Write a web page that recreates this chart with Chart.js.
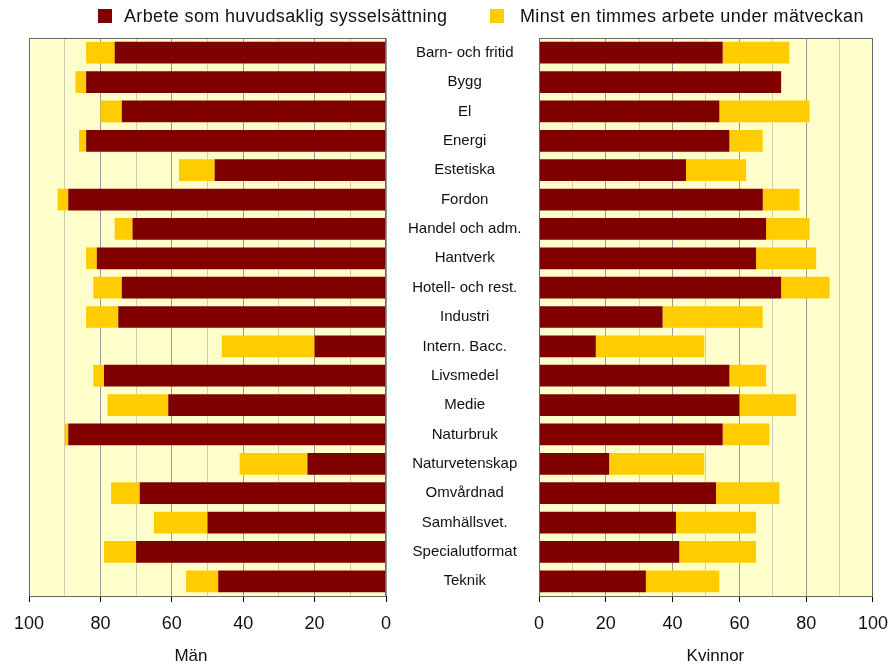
<!DOCTYPE html>
<html>
<head>
<meta charset="utf-8">
<script src="https://cdn.jsdelivr.net/npm/chart.js@4"></script>
<style>
  body { margin: 0; background: #fff; font-family: "Liberation Sans", Arial, sans-serif; overflow: hidden; }
  #wrap { position: relative; width: 896px; height: 668px; overflow: hidden; }
  #left { position: absolute; left: 0; top: 0; }
  #right { position: absolute; left: 523px; top: 0; }
  .legend { position: absolute; top: 6px; font-size: 18px; letter-spacing: 0.36px; color: #111; white-space: nowrap; }
  .legend span { display: inline-block; width: 14px; height: 14px; vertical-align: -1px; }
</style>
</head>
<body>
<div id="wrap">
  <canvas id="left" width="540" height="668"></canvas>
  <canvas id="right" width="376" height="668"></canvas>
  <div class="legend" style="left:98px"><span style="background:#800000;margin-right:12px"></span>Arbete som huvudsaklig sysselsättning</div>
  <div class="legend" style="left:490px"><span style="background:#ffcc00;margin-right:16px"></span>Minst en timmes arbete under mätveckan</div>
</div>
<script>
// Program names
const programs = ['Barn- och fritid', 'Bygg', 'El', 'Energi', 'Estetiska', 'Fordon', 'Handel och adm.',
  'Hantverk', 'Hotell- och rest.', 'Industri', 'Intern. Bacc.', 'Livsmedel', 'Medie', 'Naturbruk',
  'Naturvetenskap', 'Omvårdnad', 'Samhällsvet.', 'Specialutformat', 'Teknik'];

// Men: main occupation and at least one hour of work (percent)
const menMain = [76, 84, 74, 84, 48, 89, 71, 81, 74, 75, 20, 79, 61, 89, 22, 69, 50, 70, 47];
const menHour = [84, 87, 80, 86, 58, 92, 76, 84, 82, 84, 46, 82, 78, 90, 41, 77, 65, 79, 56];

// Women: main occupation and at least one hour of work (percent)
const womenMain = [55, 72.5, 54, 57, 44, 67, 68, 65, 72.5, 37, 17, 57, 60, 55, 21, 53, 41, 42, 32];
const womenHour = [75, 72.5, 81, 67, 62, 78, 81, 83, 87, 67, 49.5, 68, 77, 69, 49.5, 72, 65, 65, 54];

const red = '#800000';
const yellow = '#ffcc00';
const font = { family: '"Liberation Sans", Arial, sans-serif', size: 18 };

// Plot background and frame
const plotBox = {
  id: 'plotBox',
  beforeDraw(chart) {
    const a = chart.chartArea;
    const c = chart.ctx;
    c.save();
    c.fillStyle = '#ffffcc';
    c.fillRect(a.left, a.top, a.right - a.left, a.bottom - a.top);
    c.restore();
  },
  afterDraw(chart) {
    const a = chart.chartArea;
    const c = chart.ctx;
    c.save();
    c.strokeStyle = '#666';
    c.lineWidth = 1;
    c.strokeRect(a.left + 0.5, a.top + 0.5, a.right - a.left - 1, a.bottom - a.top);
    c.restore();
  }
};

function xScale(title, reverse) {
  return {
    min: 0,
    max: 100,
    reverse: reverse,
    ticks: {
      stepSize: 10,
      color: '#111',
      font: font,
      padding: 11,
      maxRotation: 0,
      callback: v => (v % 20 === 0 ? v : '')
    },
    grid: {
      color: ctx => (ctx.tick && ctx.tick.value % 20 === 0 ? '#999' : '#cfcfb8'),
      tickColor: ctx => (ctx.tick && ctx.tick.value % 20 === 0 ? '#000' : 'transparent'),
      tickLength: 6
    },
    border: { color: '#000', width: 1 },
    title: { display: true, text: title, color: '#111', font: { family: font.family, size: 17 }, padding: { top: 1, bottom: 0 } }
  };
}

function makeChart(id, main, hour, title, reverse, showLabels, padding) {
  return new Chart(document.getElementById(id), {
    type: 'bar',
    data: {
      labels: programs,
      datasets: [
        {
          label: 'Arbete som huvudsaklig sysselsättning',
          data: main,
          backgroundColor: red,
          barPercentage: 0.74,
          categoryPercentage: 1
        },
        {
          label: 'Minst en timmes arbete under mätveckan',
          data: main.map((v, i) => [v, hour[i]]),
          backgroundColor: yellow,
          barPercentage: 0.74,
          categoryPercentage: 1
        }
      ]
    },
    options: {
      indexAxis: 'y',
      responsive: false,
      animation: false,
      layout: { padding: padding },
      scales: {
        x: xScale(title, reverse),
        y: {
          stacked: true,
          display: showLabels,
          position: 'right',
          grid: { display: false, drawTicks: false },
          border: { display: false },
          ticks: {
            crossAlign: 'center',
            padding: 22,
            color: '#111',
            font: { family: font.family, size: 15 }
          },
          afterFit: axis => { if (showLabels) axis.width = 154; }
        }
      },
      plugins: {
        legend: { display: false },
        tooltip: { enabled: false }
      }
    },
    plugins: [plotBox]
  });
}

// spaces nudge the axis titles off-centre like in the original
makeChart('left', menMain, menHour, 'Män       ', true, true, { top: 38, left: 29, right: 0, bottom: 1 });
makeChart('right', womenMain, womenHour, '    Kvinnor', false, false, { top: 38, left: 2, right: 21, bottom: 1 });
</script>
</body>
</html>
